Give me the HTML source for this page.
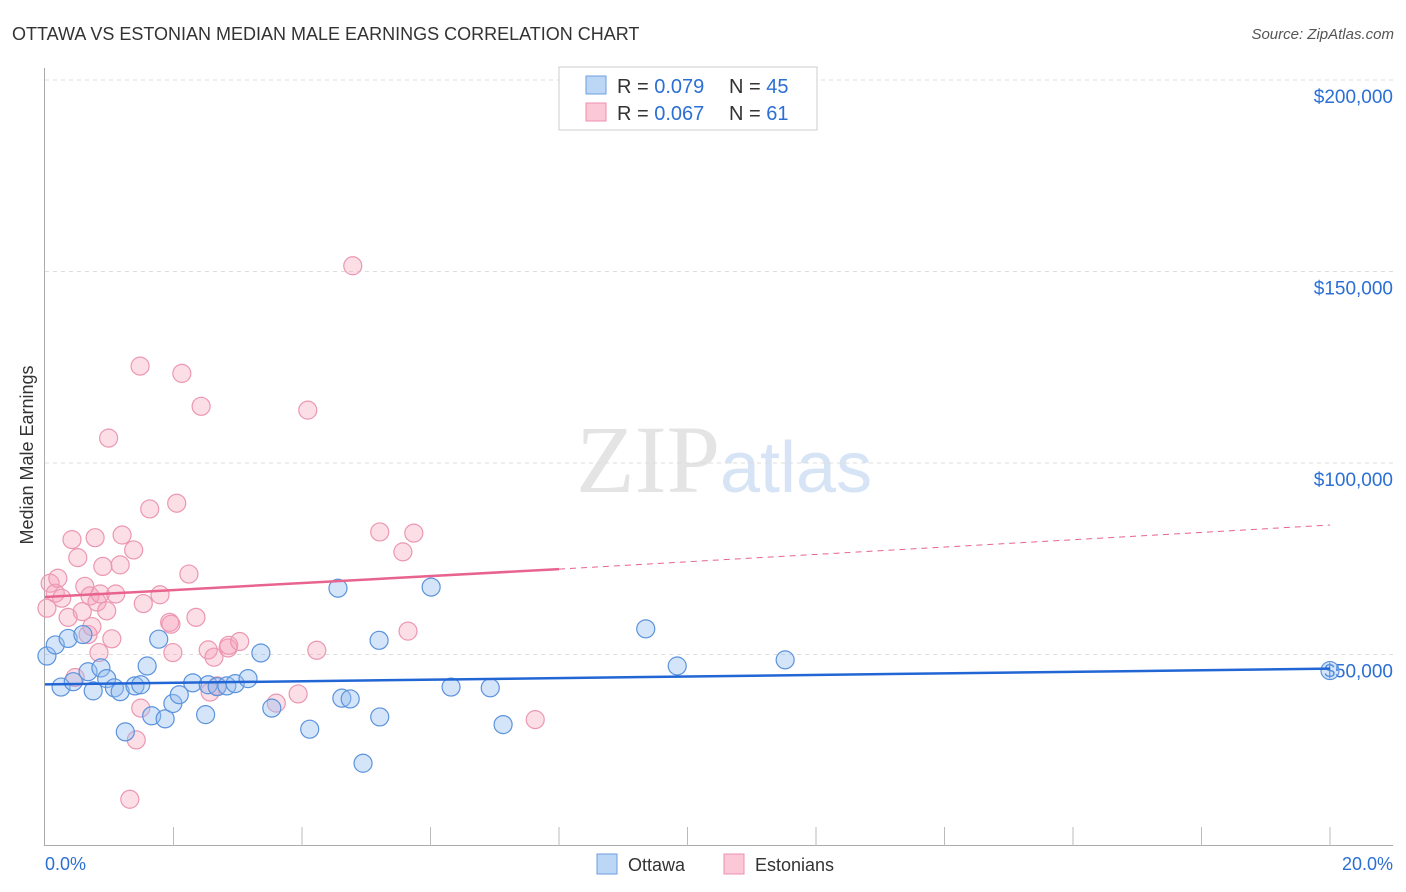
<!DOCTYPE html>
<html><head><meta charset="utf-8"><style>
body{margin:0;background:#fff;font-family:"Liberation Sans",sans-serif}
#c{position:absolute;left:0;top:0}
</style></head><body>
<svg id="c" width="1406" height="892">
<text x="12" y="40" font-size="18" fill="#333">OTTAWA VS ESTONIAN MEDIAN MALE EARNINGS CORRELATION CHART</text>
<text x="1394" y="39" font-size="15" fill="#555" font-style="italic" text-anchor="end">Source: ZipAtlas.com</text>
<text x="33" y="455" font-size="18" fill="#333" text-anchor="middle" transform="rotate(-90 33 455)">Median Male Earnings</text>
<text x="720" y="492" font-size="96" fill="#e4e4e4" text-anchor="end" font-family="Liberation Serif,serif">ZIP</text>
<text x="720" y="492" font-size="72" fill="#d6e4f5">atlas</text>
<g id="grid"></g>
<g id="axes"></g>
<g id="pts"></g>
<g id="trend"></g>
<g>
<rect x="559" y="67" width="258" height="63" fill="#fff" stroke="#ccc"/>
<rect x="586" y="76" width="20" height="18" fill="#bcd6f5" stroke="#6e9fe0"/>
<rect x="586" y="103" width="20" height="18" fill="#fbc8d8" stroke="#ec8fae"/>
<text x="617" y="93" font-size="20" fill="#333">R = <tspan fill="#2b6fd4">0.079</tspan></text>
<text x="729" y="93" font-size="20" fill="#333">N = <tspan fill="#2b6fd4">45</tspan></text>
<text x="617" y="120" font-size="20" fill="#333">R = <tspan fill="#2b6fd4">0.067</tspan></text>
<text x="729" y="120" font-size="20" fill="#333">N =  <tspan fill="#2b6fd4">61</tspan></text>
</g>
<g>
<rect x="597" y="854" width="20" height="20" fill="#bcd6f5" stroke="#6e9fe0"/>
<text x="628" y="871" font-size="18" fill="#333">Ottawa</text>
<rect x="724" y="854" width="20" height="20" fill="#fbc8d8" stroke="#ec8fae"/>
<text x="755" y="871" font-size="18" fill="#333">Estonians</text>
</g>
<text x="45" y="870" font-size="18" fill="#2b6fd4">0.0%</text>
<text x="1393" y="870" font-size="18" fill="#2b6fd4" text-anchor="end">20.0%</text>
</svg>
<script>
const yTicks=[50000,100000,150000,200000];
const yTickLabels=["$50,000","$100,000","$150,000","$200,000"];
const ottawaX=[0.03,0.16,0.25,0.36,0.44,0.59,0.67,0.75,0.87,0.96,1.08,1.17,1.40,1.49,1.59,1.25,1.66,1.77,1.87,1.99,2.09,2.30,2.50,2.54,2.68,2.83,2.96,3.16,3.36,3.53,4.12,4.56,4.62,4.75,4.95,5.20,5.21,6.01,6.32,6.93,7.13,9.35,9.84,11.52,20.0];
const ottawaY=[49600,52500,41500,54200,42900,55200,45500,40500,46500,43700,41300,40300,41800,42100,47000,29800,34000,54000,33200,37200,39500,42600,34300,42100,41600,41800,42400,43700,50400,36000,30500,67300,38600,38400,21600,53700,33700,67600,41500,41300,31700,56700,47000,48600,45800];
const estX=[0.03,0.08,0.16,0.20,0.26,0.36,0.42,0.47,0.51,0.58,0.62,0.67,0.70,0.73,0.78,0.81,0.84,0.86,0.90,0.96,0.99,1.04,1.10,1.17,1.20,1.32,1.38,1.42,1.48,1.49,1.53,1.63,1.79,1.99,1.94,1.96,2.05,2.13,2.24,2.35,2.43,2.54,2.57,2.63,2.68,2.85,2.86,3.03,3.60,3.94,4.09,4.23,4.79,5.21,5.57,5.65,5.74,7.63];
const estY=[62100,68600,66000,69900,64700,59700,80000,44000,75300,61200,67800,55200,65300,57300,80500,63700,50500,65800,73000,61400,106500,54100,65800,73400,81200,12200,77300,27700,125300,36000,63300,88000,65600,50500,58400,57900,89500,123400,71000,59700,114800,51200,40200,49300,41800,51700,52400,53400,37300,39700,113800,51100,151500,82000,76800,56100,81700,33000];
const xScale=p=>45+p*64.25;
const yScale=v=>846-v/50000*191.5;
const NS="http://www.w3.org/2000/svg";
function mk(tag,parent,attrs){const e=document.createElementNS(NS,tag);for(const k in attrs)e.setAttribute(k,attrs[k]);parent.appendChild(e);return e;}
const grid=document.getElementById('grid'),axes=document.getElementById('axes'),pts=document.getElementById('pts'),tr=document.getElementById('trend');
yTicks.forEach((t,i)=>{
 const l=mk('line',grid,{x1:45,x2:1393,y1:yScale(t),y2:yScale(t),stroke:'#ddd','stroke-dasharray':'4,4'});
 
 
 const tx=mk('text',grid,{x:1393,y:yScale(t)+23,'font-size':19,fill:'#2b6fd4','text-anchor':'end'});
 tx.textContent=yTickLabels[i];
 
 
});
const ga=mk('line',grid,{x1:45,x2:1393,y1:80,y2:80,stroke:'#ddd','stroke-dasharray':'4,4'});
const ya=mk('line',axes,{x1:44.5,x2:44.5,y1:68,y2:846,stroke:'#aaa'});


const xa=mk('line',axes,{x1:44,x2:1393,y1:845.5,y2:845.5,stroke:'#aaa'});


for(let i=1;i<=10;i++){const t=mk('line',axes,{x1:xScale(i*2),x2:xScale(i*2),y1:827,y2:846,stroke:'#bbb'});
 
 }
estX.forEach((x,i)=>{const c=mk('circle',pts,{cx:xScale(x),cy:yScale(estY[i]),r:9,fill:'rgba(245,160,185,0.35)',stroke:'#ec97b2','stroke-width':1.2});
 
 });
ottawaX.forEach((x,i)=>{const c=mk('circle',pts,{cx:xScale(x),cy:yScale(ottawaY[i]),r:9,fill:'rgba(150,190,240,0.4)',stroke:'#5b93dc','stroke-width':1.2});
 
 });
const b=mk('line',tr,{x1:xScale(0),y1:yScale(42200),x2:xScale(20),y2:yScale(46300),stroke:'#2166d4','stroke-width':2.5});


const p1=mk('line',tr,{x1:xScale(0),y1:yScale(65000),x2:xScale(8),y2:yScale(72300),stroke:'#e8648e','stroke-width':2.5});


const p2=mk('line',tr,{x1:xScale(8),y1:yScale(72300),x2:xScale(20),y2:yScale(83800),stroke:'#e8648e','stroke-width':1,'stroke-dasharray':'6,5'});


</script>
</body></html>
